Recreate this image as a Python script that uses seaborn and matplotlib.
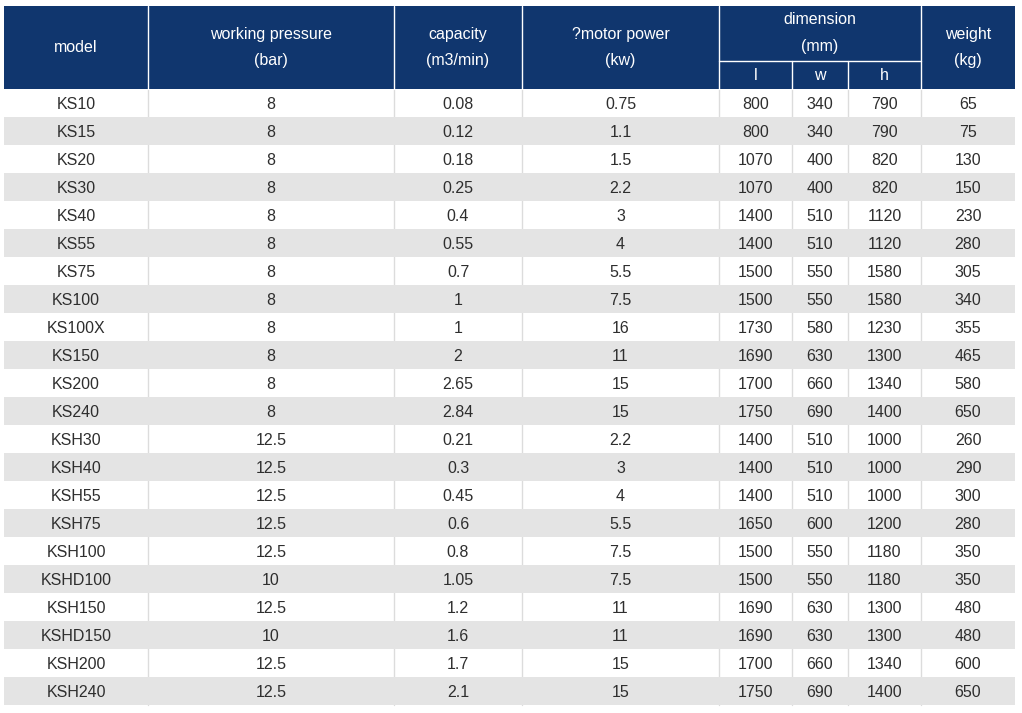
import seaborn as sns
import matplotlib.pyplot as plt
from matplotlib.patches import Rectangle

sns.set_theme(style="white")
plt.rcParams['font.family'] = ['Liberation Sans', 'DejaVu Sans']

# table data
models = ["KS10", "KS15", "KS20", "KS30", "KS40", "KS55", "KS75", "KS100", "KS100X",
          "KS150", "KS200", "KS240", "KSH30", "KSH40", "KSH55", "KSH75", "KSH100",
          "KSHD100", "KSH150", "KSHD150", "KSH200", "KSH240"]
pressure = ["8"] * 12 + ["12.5", "12.5", "12.5", "12.5", "12.5", "10", "12.5", "10", "12.5", "12.5"]
capacity = ["0.08", "0.12", "0.18", "0.25", "0.4", "0.55", "0.7", "1", "1", "2", "2.65", "2.84",
            "0.21", "0.3", "0.45", "0.6", "0.8", "1.05", "1.2", "1.6", "1.7", "2.1"]
motor_power = ["0.75", "1.1", "1.5", "2.2", "3", "4", "5.5", "7.5", "16", "11", "15", "15",
               "2.2", "3", "4", "5.5", "7.5", "7.5", "11", "11", "15", "15"]
dim_l = ["800", "800", "1070", "1070", "1400", "1400", "1500", "1500", "1730", "1690", "1700", "1750",
         "1400", "1400", "1400", "1650", "1500", "1500", "1690", "1690", "1700", "1750"]
dim_w = ["340", "340", "400", "400", "510", "510", "550", "550", "580", "630", "660", "690",
         "510", "510", "510", "600", "550", "550", "630", "630", "660", "690"]
dim_h = ["790", "790", "820", "820", "1120", "1120", "1580", "1580", "1230", "1300", "1340", "1400",
         "1000", "1000", "1000", "1200", "1180", "1180", "1300", "1300", "1340", "1400"]
weight = ["65", "75", "130", "150", "230", "280", "305", "340", "355", "465", "580", "650",
          "260", "290", "300", "280", "350", "350", "480", "480", "600", "650"]

columns = [models, pressure, capacity, motor_power, dim_l, dim_w, dim_h, weight]

# layout in pixels
col_edges = [4, 148, 394, 522, 719, 792, 848, 921, 1015]
top, sub_y, head_bot, row_h = 6, 61, 89, 28

navy = "#10366E"
stripe = "#E4E4E4"
grid = "#DCDCDC"
txt = "#2E2E2E"
fs = 11.5

fig = plt.figure(figsize=(10.22, 7.13), dpi=100)
ax = fig.add_axes([0, 0, 1, 1])
ax.set_xlim(0, 1022)
ax.set_ylim(713, 0)
ax.axis("off")

# header background
ax.add_patch(Rectangle((col_edges[0], top), col_edges[-1] - col_edges[0], head_bot - top,
                       facecolor=navy, edgecolor="none"))
# header separators
for x in col_edges[1:-1]:
    if x in (792, 848):
        ax.plot([x, x], [sub_y, head_bot], color="white", lw=1)
    else:
        ax.plot([x, x], [top, head_bot], color="white", lw=1)
ax.plot([col_edges[4], col_edges[7]], [sub_y, sub_y], color="white", lw=1)

def cx(i, j=None):
    j = i + 1 if j is None else j
    return (col_edges[i] + col_edges[j]) / 2

hk = dict(color="white", fontsize=fs, ha="center", va="center")
ax.text(cx(0), 47, "model", **hk)
ax.text(cx(1), 34, "working pressure", **hk)
ax.text(cx(1), 61, "(bar)", **hk)
ax.text(cx(2), 34, "capacity", **hk)
ax.text(cx(2), 61, "(m3/min)", **hk)
ax.text(cx(3), 34, "?motor power", **hk)
ax.text(cx(3), 61, "(kw)", **hk)
ax.text(cx(4, 7), 20, "dimension", **hk)
ax.text(cx(4, 7), 47, "(mm)", **hk)
for k, lab in enumerate(["l", "w", "h"]):
    ax.text(cx(4 + k), 75, lab, **hk)
ax.text(cx(7), 34, "weight", **hk)
ax.text(cx(7), 61, "(kg)", **hk)

# body rows
n = len(models)
for r in range(n):
    y0 = head_bot + r * row_h
    if r % 2 == 1:
        ax.add_patch(Rectangle((col_edges[0], y0), col_edges[-1] - col_edges[0], row_h,
                               facecolor=stripe, edgecolor="none"))
    for c, col in enumerate(columns):
        ax.text(cx(c), y0 + row_h / 2 + 1.3, col[r], color=txt, fontsize=fs,
                ha="center", va="center")

bot = head_bot + n * row_h
for x in col_edges[1:-1]:
    ax.plot([x, x], [head_bot, bot], color=grid, lw=1, zorder=0.5)

fig.savefig("out.png", dpi=100)
